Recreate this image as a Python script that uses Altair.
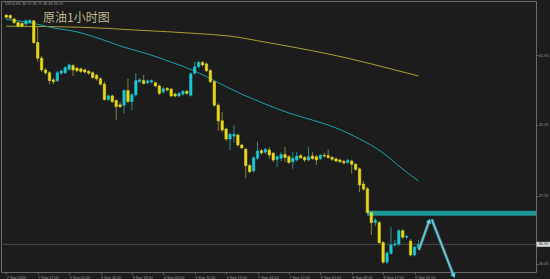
import altair as alt
import pandas as pd

# ---------------- data ----------------
bar_index = list(range(106))
opens = [43.03, 43.02, 42.92, 42.82, 42.80, 42.78, 42.82, 42.87, 42.26, 41.82,
         41.49, 41.41, 41.21, 41.19, 41.40, 41.41, 41.51, 41.61, 41.54, 41.52,
         41.49, 41.45, 41.41, 41.34, 41.24, 41.09, 40.66, 40.76, 40.63, 40.51,
         40.50, 40.91, 40.60, 40.79, 41.17, 41.19, 41.13, 41.15, 41.13, 41.04,
         40.87, 40.97, 40.95, 40.81, 40.76, 40.81, 40.89, 40.78, 41.40, 41.58,
         41.70, 41.66, 41.47, 41.16, 40.50, 40.06, 39.83, 39.55, 39.63, 39.66,
         39.38, 39.26, 38.80, 38.65, 39.01, 39.22, 39.18, 39.24, 39.15, 38.98,
         39.01, 39.11, 39.05, 38.91, 38.96, 39.08, 39.03, 38.96, 39.07, 39.05,
         39.00, 39.09, 39.08, 39.03, 38.99, 38.96, 38.92, 38.89, 38.93, 38.84,
         38.71, 38.28, 38.15, 37.48, 37.20, 37.20, 36.64, 36.09, 36.34, 36.57,
         36.60, 36.97, 36.79, 36.68, 36.29, 36.50]
highs = [43.06, 43.05, 42.95, 42.85, 42.82, 42.91, 42.91, 42.89, 42.70, 41.88,
         41.54, 41.46, 41.26, 41.47, 41.50, 41.60, 41.67, 41.66, 41.57, 41.56,
         41.53, 41.49, 41.45, 41.38, 41.28, 41.16, 40.80, 40.80, 40.66, 40.59,
         40.95, 41.25, 40.84, 41.40, 41.25, 41.35, 41.22, 41.22, 41.16, 41.08,
         41.01, 41.01, 40.98, 40.86, 40.87, 40.93, 40.93, 41.42, 41.72, 41.75,
         41.74, 41.70, 41.52, 41.19, 40.55, 40.31, 39.87, 39.72, 39.94, 39.70,
         39.42, 39.30, 38.85, 39.07, 39.47, 39.27, 39.30, 39.32, 39.18, 39.10,
         39.18, 39.32, 39.10, 39.18, 39.18, 39.13, 39.07, 39.33, 39.18, 39.10,
         39.13, 39.16, 39.26, 39.07, 39.03, 39.00, 38.96, 38.99, 38.97, 38.87,
         38.75, 38.37, 38.20, 37.53, 37.33, 37.25, 36.68, 36.40, 37.08, 36.71,
         37.02, 37.02, 36.85, 36.74, 36.54, 36.71]
lows = [42.92, 42.91, 42.78, 42.68, 42.68, 42.75, 42.78, 42.22, 41.72, 41.43,
        41.35, 41.09, 41.09, 41.15, 41.35, 41.38, 41.46, 41.32, 41.42, 41.40,
        41.39, 41.35, 41.24, 41.19, 41.05, 40.63, 40.62, 40.56, 40.08, 40.42,
        40.27, 40.56, 40.36, 40.74, 41.12, 41.08, 41.09, 41.11, 41.00, 40.79,
        40.83, 40.88, 40.72, 40.72, 40.72, 40.77, 40.79, 40.74, 41.35, 41.54,
        41.59, 41.43, 41.12, 40.46, 39.78, 39.75, 39.49, 39.24, 39.44, 39.34,
        39.27, 38.45, 38.59, 38.61, 38.96, 39.10, 39.13, 38.99, 38.90, 38.76,
        38.93, 38.90, 38.85, 38.71, 38.92, 38.99, 38.90, 38.92, 38.96, 38.82,
        38.96, 39.03, 38.99, 38.93, 38.89, 38.87, 38.83, 38.85, 38.57, 38.65,
        38.06, 38.09, 37.44, 36.85, 37.10, 36.60, 36.04, 36.04, 36.29, 36.53,
        36.54, 36.74, 36.73, 36.25, 36.25, 36.46]
closes = [42.97, 42.95, 42.82, 42.72, 42.72, 42.87, 42.88, 42.26, 41.82, 41.49,
          41.41, 41.19, 41.16, 41.41, 41.46, 41.55, 41.63, 41.49, 41.47, 41.45,
          41.43, 41.40, 41.28, 41.24, 41.09, 40.66, 40.76, 40.60, 40.46, 40.46,
          40.91, 40.60, 40.79, 41.19, 41.21, 41.11, 41.18, 41.19, 41.04, 40.83,
          40.96, 40.93, 40.76, 40.76, 40.83, 40.89, 40.83, 41.38, 41.58, 41.70,
          41.63, 41.47, 41.16, 40.50, 40.06, 39.80, 39.55, 39.68, 39.68, 39.38,
          39.30, 38.80, 38.63, 39.02, 39.21, 39.16, 39.26, 39.10, 38.96, 39.05,
          39.11, 39.03, 38.89, 39.01, 39.07, 39.02, 38.96, 39.05, 39.00, 38.96,
          39.09, 39.07, 39.03, 38.98, 38.93, 38.91, 38.88, 38.95, 38.84, 38.70,
          38.26, 38.14, 37.48, 37.20, 37.27, 36.64, 36.09, 36.34, 36.57, 36.60,
          36.97, 36.79, 36.81, 36.29, 36.51, 36.59]

ma_fast_idx = [0, 6, 12, 18, 24, 30, 36, 42, 48, 54, 60, 66, 72, 78, 84, 90, 96, 100, 105]
ma_fast_val = [42.91, 42.82, 42.67, 42.56, 42.36, 42.13, 41.94, 41.71, 41.46, 41.13,
               40.81, 40.53, 40.28, 40.08, 39.86, 39.55, 39.16, 38.79, 38.37]
ma_slow_idx = [0, 19, 33, 49, 57, 66, 77, 87, 99, 105]
ma_slow_val = [42.72, 42.69, 42.61, 42.51, 42.44, 42.27, 42.05, 41.82, 41.49, 41.32]

x_tick_idx = [0, 8, 16, 24, 32, 40, 48, 56, 64, 72, 80, 88, 96, 104]
x_tick_labels = ["2 Sep 2020", "2 Sep 17:00", "3 Sep 01:00", "3 Sep 10:00",
                 "3 Sep 18:00", "4 Sep 03:00", "4 Sep 11:00", "4 Sep 19:00",
                 "7 Sep 04:00", "7 Sep 12:00", "8 Sep 01:00", "8 Sep 09:00",
                 "8 Sep 17:00", "9 Sep 02:00"]
y_ticks = [36.05, 36.55, 37.00, 37.50, 37.95, 38.45, 38.95, 39.45, 39.95,
           40.45, 40.95, 41.40, 41.90, 42.40, 42.90, 43.40]

current_price = 36.59
zone_start = 91.9
zone_low, zone_high = 37.39, 37.53

arrow_seg = ["a", "a", "b", "b"]
arrow_idx = [105.1, 107.75, 108.4, 114.0]
arrow_price = [36.43, 37.25, 37.29, 35.70]
head_idx = [107.75, 114.0]
head_price = [37.25, 35.70]
head_angle = [20, 158]

title_text = "原油1小时图"
header_text = "USOil,H1  36.50 36.71 36.46 36.59"

# ---------------- styles ----------------
BG = "#1c1c1c"
CYAN = "#1cc8d6"
YELLOW = "#e8d81c"
CYAN_WICK = "#2c8a90"
YELLOW_WICK = "#85823a"
MA_FAST = "#1aa3a8"
MA_SLOW = "#aaa030"
BAND = "#1f9d9d"
ARROW = "#4fd8e8"
FRAME = "#6a6a6a"
LABEL = "#9a9a9a"

df = pd.DataFrame({"i": bar_index, "open": opens, "high": highs,
                   "low": lows, "close": closes})
up = df["close"] >= df["open"]
df["body_col"] = up.map({True: CYAN, False: YELLOW})
df["wick_col"] = up.map({True: CYAN_WICK, False: YELLOW_WICK})

xscale = alt.Scale(domain=[-0.075, 133.675], nice=False, zero=False)
yscale = alt.Scale(domain=[35.812, 43.427], nice=False, zero=False)

label_expr = "[" + ",".join("'" + s + "'" for s in x_tick_labels) + "][round(datum.value/8)]"

xaxis = alt.Axis(values=x_tick_idx, labelExpr=label_expr, title=None, grid=False,
                 domain=False, ticks=True, tickSize=2, tickColor=FRAME,
                 labelColor=LABEL, labelFont="Liberation Sans", labelFontSize=3.8,
                 labelAlign="left", labelBaseline="top", labelPadding=1,
                 labelOverlap=False, labelFlush=False)
yaxis = alt.Axis(values=y_ticks, format=".2f", orient="right", title=None,
                 grid=False, domain=False, ticks=True, tickSize=2,
                 tickColor=FRAME, labelColor=LABEL, labelFont="Liberation Sans",
                 labelFontSize=3.8, labelAlign="left", labelBaseline="middle",
                 labelPadding=0.5, labelOverlap=False, labelFlush=False)

base = alt.Chart(df)

wicks = base.mark_rule(strokeWidth=1).encode(
    x=alt.X("i:Q", scale=xscale, axis=xaxis),
    y=alt.Y("low:Q", scale=yscale, axis=yaxis),
    y2="high:Q",
    color=alt.Color("wick_col:N", scale=None),
)
bodies = base.mark_bar(size=2.4, strokeWidth=0.6).encode(
    x="i:Q", y="open:Q", y2="close:Q",
    color=alt.Color("body_col:N", scale=None),
    stroke=alt.Color("body_col:N", scale=None),
)

fast = alt.Chart(pd.DataFrame({"i": ma_fast_idx, "v": ma_fast_val})).mark_line(
    color=MA_FAST, strokeWidth=1, interpolate="monotone").encode(x="i:Q", y="v:Q")
slow = alt.Chart(pd.DataFrame({"i": ma_slow_idx, "v": ma_slow_val})).mark_line(
    color=MA_SLOW, strokeWidth=1, interpolate="monotone").encode(x="i:Q", y="v:Q")

zone = alt.Chart(pd.DataFrame({"x": [zone_start], "lo": [zone_low], "hi": [zone_high]})).mark_rect(
    color=BAND, opacity=0.95).encode(x="x:Q", x2=alt.value(535), y="lo:Q", y2="hi:Q")

price_line = alt.Chart(pd.DataFrame({"p": [current_price]})).mark_rule(
    color="#4a4a4a", strokeWidth=1).encode(y="p:Q", x=alt.value(0), x2=alt.value(535))

arrows_df = pd.DataFrame({"seg": arrow_seg, "i": arrow_idx, "p": arrow_price})
arrow_shadow = alt.Chart(arrows_df).mark_line(color="#6e6e6e", strokeWidth=3.2, opacity=0.8).encode(
    x="i:Q", y="p:Q", detail="seg:N")
arrow_lines = alt.Chart(arrows_df).mark_line(color=ARROW, strokeWidth=1.6).encode(
    x="i:Q", y="p:Q", detail="seg:N")
heads = alt.Chart(pd.DataFrame({"i": head_idx, "p": head_price, "a": head_angle})).mark_point(
    shape="triangle-up", filled=True, size=28, color=ARROW, opacity=1).encode(
    x="i:Q", y="p:Q", angle=alt.Angle("a:Q", scale=None))

price_box = alt.Chart(pd.DataFrame({"p": [current_price]})).mark_rect(
    color="#d9d9d9", height=5).encode(y="p:Q", x=alt.value(535.5), x2=alt.value(549))
price_text = alt.Chart(pd.DataFrame({"p": [current_price], "t": [f"{current_price:.2f}"]})).mark_text(
    font="Liberation Sans", fontSize=3.8, color="#222222", align="left",
    baseline="middle").encode(y="p:Q", x=alt.value(537.5), text="t:N")

title = alt.Chart(pd.DataFrame({"t": [title_text]})).mark_text(
    font="Noto Sans CJK SC", fontSize=12, color="#bdb88c", align="left",
    baseline="middle").encode(x=alt.value(42), y=alt.value(16.5), text="t:N")
header = alt.Chart(pd.DataFrame({"t": [header_text]})).mark_text(
    font="Liberation Sans", fontSize=3.8, color=LABEL, align="left",
    baseline="middle").encode(x=alt.value(4), y=alt.value(3), text="t:N")

chart = alt.layer(
    zone, price_line, slow, fast, wicks, bodies,
    arrow_shadow, arrow_lines, heads, price_box, price_text, title, header
).properties(
    width=535, height=271,
    padding={"left": 1, "top": 1, "right": 14, "bottom": 7},
    autosize="none", background=BG,
).configure_view(stroke=FRAME, strokeWidth=1, fill=BG)

chart.save("out.html", embed_options={"renderer": "svg", "actions": False})
